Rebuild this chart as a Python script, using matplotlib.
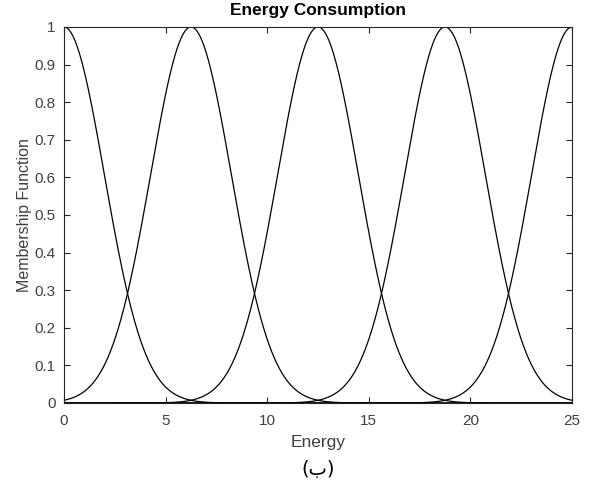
import numpy as np
import matplotlib
matplotlib.use("Agg")
import matplotlib.pyplot as plt

# Gaussian membership functions of the "Energy" input
mf_centers = [0.0, 6.25, 12.5, 18.75, 25.0]
mf_sigma = 1.99
x_range = [0, 25]
x_ticks = [0, 5, 10, 15, 20, 25]
y_ticks = [0, 0.1, 0.2, 0.3, 0.4, 0.5, 0.6, 0.7, 0.8, 0.9, 1]
y_ticklabels = ["0", "0.1", "0.2", "0.3", "0.4", "0.5", "0.6", "0.7", "0.8", "0.9", "1"]

plt.rcParams['font.family'] = ['Liberation Sans', 'DejaVu Sans']

fig = plt.figure(figsize=(5.92, 4.93), dpi=100)
ax = fig.add_axes([64 / 592, 1 - 403 / 493, 508 / 592, 376 / 493])

x = np.linspace(x_range[0], x_range[1], 1001)
for c in mf_centers:
    ax.plot(x, np.exp(-(x - c) ** 2 / (2 * mf_sigma ** 2)), color="black", lw=0.9)

ax.set_xlim(x_range)
ax.set_ylim(0, 1)
ax.set_xticks(x_ticks)
ax.set_yticks(y_ticks)
ax.set_yticklabels(y_ticklabels)
ax.tick_params(direction="in", top=True, right=True, length=4, width=0.8,
               labelsize=11, colors="#262626", labelcolor="#404040")
ax.tick_params(axis="x", pad=8)
ax.tick_params(axis="y", pad=6)
for s in ax.spines.values():
    s.set_color("#262626")
    s.set_linewidth(0.8)

ax.set_title("Energy Consumption", fontsize=12.5, fontweight="bold", pad=9)
ax.set_xlabel("Energy", fontsize=12.5, color="#404040", labelpad=5)
ax.set_ylabel("Membership Function", fontsize=11.5, color="#404040", labelpad=2)

fig.text(0.5 * (64 + 572) / 592, 1 - 470 / 493, "(ب)", ha="center", va="center",
         fontsize=14, family=['DejaVu Sans'], color="black")

fig.savefig("out.png", dpi=100, facecolor="white")
